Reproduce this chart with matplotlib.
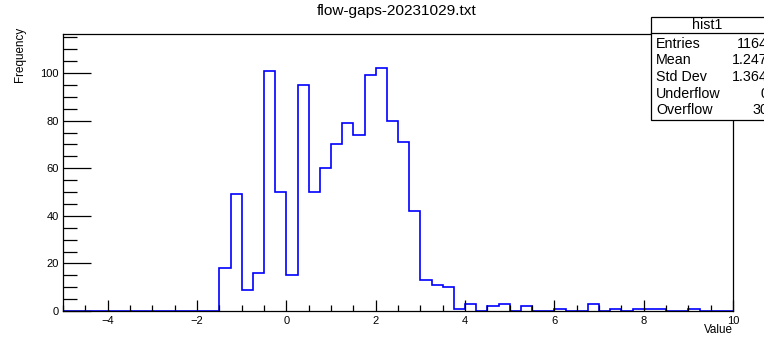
import numpy as np
import matplotlib
matplotlib.use("Agg")
import matplotlib.pyplot as plt
from matplotlib.patches import Rectangle
from matplotlib.lines import Line2D
from matplotlib.ticker import MultipleLocator

plt.rcParams['font.family'] = ['Liberation Sans', 'DejaVu Sans']

# ---- data ----
x_min, x_max, n_bins = -5.0, 10.0, 60
counts = [0, 0, 0, 0, 0, 0, 0, 0, 0, 0, 0, 0, 0, 0,
          18, 49, 9, 16, 101, 50, 15, 95, 50, 60, 70, 79, 74, 99, 102, 80,
          71, 42, 13, 11, 10, 1, 3, 0, 2, 3, 0, 2, 0, 0, 1, 0, 0, 3, 0, 1,
          0, 1, 1, 1, 0, 0, 1, 0, 0, 0]
title = "flow-gaps-20231029.txt"
stat_names = ["Entries", "Mean", "Std Dev", "Underflow", "Overflow"]
stat_values = ["1164", "1.247", "1.364", "0", "30"]
hist_name = "hist1"

W, H = 764, 337
fig = plt.figure(figsize=(W / 100, H / 100), dpi=100)

def fx(px):
    return px / W

def fy(py):
    return 1 - py / H

ax_l, ax_r, ax_t, ax_b = 63, 733, 33.5, 311
ax = fig.add_axes([fx(ax_l), fy(ax_b), fx(ax_r - ax_l), (ax_b - ax_t) / H])

edges = np.linspace(x_min, x_max, n_bins + 1)
ax.stairs(counts, edges, color='#0000ff', linewidth=1.2, baseline=0)
ax.set_xlim(x_min, x_max)
ax.set_ylim(0, 116.6)

ax.xaxis.set_major_locator(MultipleLocator(2))
ax.xaxis.set_minor_locator(MultipleLocator(0.5))
ax.yaxis.set_major_locator(MultipleLocator(20))
ax.yaxis.set_minor_locator(MultipleLocator(5))
ax.tick_params(axis='both', which='both', direction='in', top=False, right=False,
               labelsize=8, width=0.9, colors='black')
ax.tick_params(axis='x', which='major', length=8, pad=3.5)
ax.tick_params(axis='x', which='minor', length=4)
ax.tick_params(axis='y', which='major', length=20, pad=3)
ax.tick_params(axis='y', which='minor', length=10)
for s in ax.spines.values():
    s.set_linewidth(0.9)

fig.text(fx(397), fy(11.5), title, ha='center', va='center', fontsize=11.1)
fig.text(fx(20), fy(27), "Frequency", rotation=90, ha='center', va='top', fontsize=8.4)
fig.text(fx(733), fy(330), "Value", ha='right', va='center', fontsize=8.4)

# stats box
bx_l, bx_t, bx_b = 651, 16.5, 120
fig.add_artist(Rectangle((fx(bx_l), fy(bx_b)), fx(W + 20 - bx_l), (bx_b - bx_t) / H,
                         transform=fig.transFigure, facecolor='white',
                         edgecolor='black', linewidth=0.9, zorder=5))
fig.add_artist(Line2D([fx(bx_l), fx(W + 20)], [fy(33), fy(33)],
                      transform=fig.transFigure, color='black', linewidth=0.9, zorder=6))
fig.text(fx(707), fy(25), hist_name, ha='center', va='center', fontsize=10.3, zorder=7)
for i, (n, v) in enumerate(zip(stat_names, stat_values)):
    yy = 43.5 + i * 16.7
    fig.text(fx(656), fy(yy), n, ha='left', va='center', fontsize=10.3, zorder=7)
    fig.text(fx(768), fy(yy), v, ha='right', va='center', fontsize=10.3, zorder=7)

fig.savefig("out.png", dpi=100)
